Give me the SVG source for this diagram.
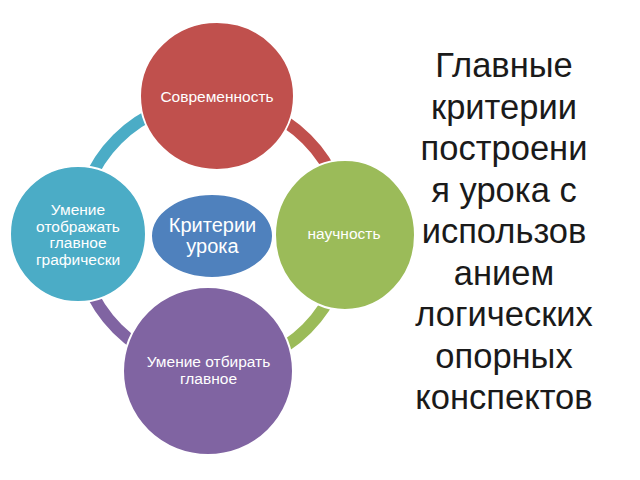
<svg xmlns="http://www.w3.org/2000/svg" width="640" height="480" viewBox="0 0 640 480">
<style>
.node{stroke:#fff;stroke-width:2}
.ring{fill:none;stroke-width:12}
.lbl{font-family:"Liberation Sans",Arial,sans-serif;font-size:15.5px;fill:#fff;text-anchor:middle}
.title{font-family:"Liberation Sans",Arial,sans-serif;font-size:34.5px;fill:#1a1a1a;text-anchor:middle}
</style>
<rect width="640" height="480" fill="#fff"/>
<g id="connectors">
<path class="ring" stroke="#4BACC6" d="M78 234 A134 134 0 0 1 212 100"/>
<path class="ring" stroke="#C0504D" d="M212 100 A134 134 0 0 1 346 234"/>
<path class="ring" stroke="#9BBB59" d="M346 234 A134 134 0 0 1 212 368"/>
<path class="ring" stroke="#8064A2" d="M212 368 A134 134 0 0 1 78 234"/>
</g>
<g id="node-sovremennost">
<ellipse class="node" cx="217" cy="96" rx="77" ry="74" fill="#C0504D"/>
<text class="lbl" x="217" y="102">Современность</text>
</g>
<g id="node-nauchnost">
<ellipse class="node" cx="345" cy="235" rx="70" ry="75" fill="#9BBB59"/>
<text class="lbl" x="344" y="239">научность</text>
</g>
<g id="node-otbirat">
<ellipse class="node" cx="208" cy="371" rx="85" ry="84" fill="#8064A2"/>
<text class="lbl" x="208.5" y="367">Умение отбирать</text>
<text class="lbl" x="208.5" y="383.5">главное</text>
</g>
<g id="node-otobrazhat">
<ellipse class="node" cx="78" cy="234" rx="68" ry="68" fill="#4BACC6"/>
<text class="lbl" x="78" y="215">Умение</text>
<text class="lbl" x="78" y="231.5">отображать</text>
<text class="lbl" x="78" y="248">главное</text>
<text class="lbl" x="78" y="264.5">графически</text>
</g>
<g id="node-center">
<ellipse class="node" cx="212" cy="236" rx="61" ry="42" fill="#4F81BD"/>
<text class="lbl" x="212.5" y="232" style="font-size:20px">Критерии</text>
<text class="lbl" x="212.5" y="253" style="font-size:20px">урока</text>
</g>
<g id="title">
<text class="title" x="504" y="77">Главные</text>
<text class="title" x="504" y="118.5">критерии</text>
<text class="title" x="504" y="160">построени</text>
<text class="title" x="504" y="201.5">я урока с</text>
<text class="title" x="504" y="243">использов</text>
<text class="title" x="504" y="284.5">анием</text>
<text class="title" x="504" y="326">логических</text>
<text class="title" x="504" y="367.5">опорных</text>
<text class="title" x="504" y="409">конспектов</text>
</g>
</svg>
